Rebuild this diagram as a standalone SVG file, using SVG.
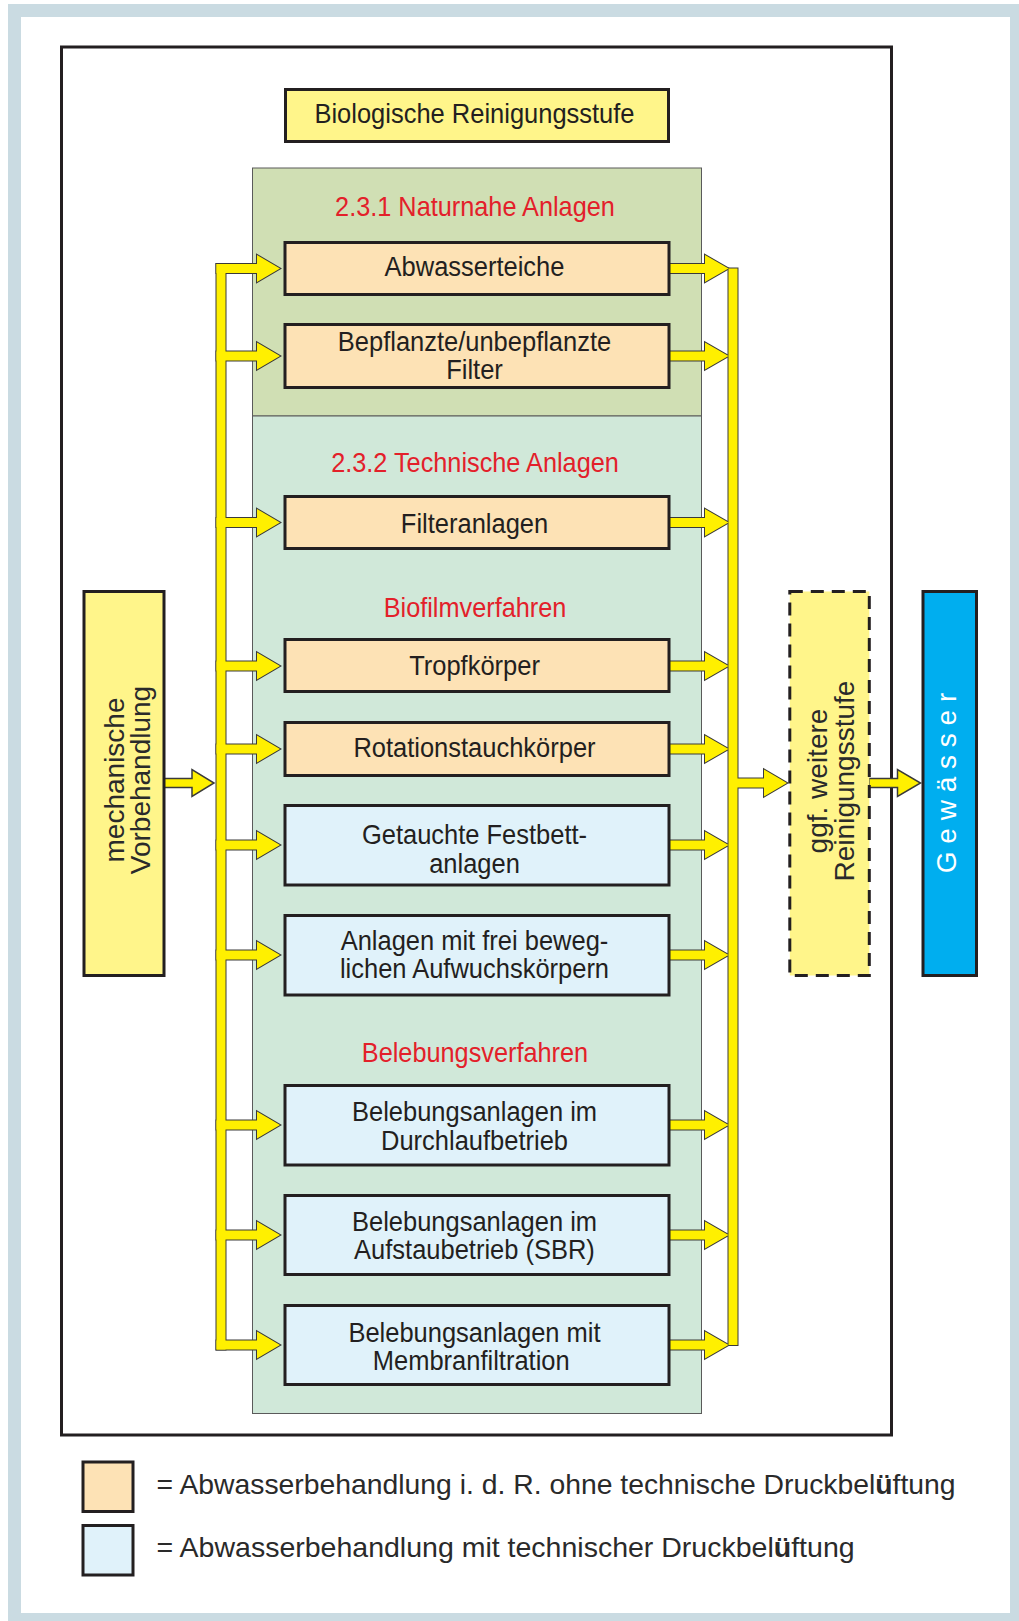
<svg xmlns="http://www.w3.org/2000/svg" xmlns:xlink="http://www.w3.org/1999/xlink" width="1019" height="1621" viewBox="0 0 1019 1621">
<style>
.box{stroke:#231f20;stroke-width:3}
.peach{fill:#fde2b5}
.lblue{fill:#e0f2fa}
.pyellow{fill:#fff58a}
.t{font-family:"Liberation Sans",Arial,sans-serif;font-size:27.5px;fill:#231f20;text-anchor:middle;transform:matrix(0.927,0,0,1,34.64,0)}
.red{font-family:"Liberation Sans",Arial,sans-serif;font-size:27.5px;fill:#e3202a;text-anchor:middle;transform:matrix(0.92,0,0,1,38,0)}
.lt{font-family:"Liberation Sans",Arial,sans-serif;font-size:28px;fill:#2a2a2a;text-anchor:middle}
.leg{font-family:"Liberation Sans",Arial,sans-serif;font-size:28.3px;fill:#2a2a2a}
.sect{stroke:#5a5a5a;stroke-width:1}
</style>
<defs>
<g id="combL">
<rect x="216.5" y="264" width="9" height="1085.5"/>
<path d="M216.5,264 H257 V255 L280,268.5 L257,282 V273 H216.5 Z"/>
<path d="M216.5,351.5 H257 V342.5 L280,356 L257,369.5 V360.5 H216.5 Z"/>
<path d="M216.5,518 H257 V509 L280,522.5 L257,536 V527 H216.5 Z"/>
<path d="M216.5,661.5 H257 V652.5 L280,666 L257,679.5 V670.5 H216.5 Z"/>
<path d="M216.5,744.5 H257 V735.5 L280,749 L257,762.5 V753.5 H216.5 Z"/>
<path d="M216.5,840.5 H257 V831.5 L280,845 L257,858.5 V849.5 H216.5 Z"/>
<path d="M216.5,950.5 H257 V941.5 L280,955 L257,968.5 V959.5 H216.5 Z"/>
<path d="M216.5,1120.5 H257 V1111.5 L280,1125 L257,1138.5 V1129.5 H216.5 Z"/>
<path d="M216.5,1230.5 H257 V1221.5 L280,1235 L257,1248.5 V1239.5 H216.5 Z"/>
<path d="M216.5,1340.5 H257 V1331.5 L280,1345 L257,1358.5 V1349.5 H216.5 Z"/>
</g>
<g id="combR">
<rect x="728.5" y="268.5" width="9" height="1076.5"/>
<path d="M669,264 H705 V255 L728.5,268.5 L705,282 V273 H669 Z"/>
<path d="M669,351.5 H705 V342.5 L728.5,356 L705,369.5 V360.5 H669 Z"/>
<path d="M669,518 H705 V509 L728.5,522.5 L705,536 V527 H669 Z"/>
<path d="M669,661.5 H705 V652.5 L728.5,666 L705,679.5 V670.5 H669 Z"/>
<path d="M669,744.5 H705 V735.5 L728.5,749 L705,762.5 V753.5 H669 Z"/>
<path d="M669,840.5 H705 V831.5 L728.5,845 L705,858.5 V849.5 H669 Z"/>
<path d="M669,950.5 H705 V941.5 L728.5,955 L705,968.5 V959.5 H669 Z"/>
<path d="M669,1120.5 H705 V1111.5 L728.5,1125 L705,1138.5 V1129.5 H669 Z"/>
<path d="M669,1230.5 H705 V1221.5 L728.5,1235 L705,1248.5 V1239.5 H669 Z"/>
<path d="M669,1340.5 H705 V1331.5 L728.5,1345 L705,1358.5 V1349.5 H669 Z"/>
<path d="M737,778.5 H764 V769.5 L787,783 L764,796.5 V787.5 H737 Z"/>
</g>
<path id="arrMech" d="M164,778.5 H192 V769.5 L214,783 L192,796.5 V787.5 H164 Z"/>
<path id="arrGew" d="M869,778.5 H897.5 V769.5 L920.5,783 L897.5,796.5 V787.5 H869 Z"/>
</defs>

<rect x="0" y="0" width="1019" height="1621" fill="#ffffff"/>
<rect x="8" y="4" width="1011" height="1617" fill="#cadbe2"/>
<rect x="21" y="17" width="989" height="1596" fill="#ffffff"/>
<rect x="61.5" y="47" width="830" height="1388" fill="#ffffff" stroke="#231f20" stroke-width="3"/>

<g id="sections">
<rect class="sect" x="252.5" y="168" width="449" height="248" fill="#d0dfb4"/>
<rect class="sect" x="252.5" y="416" width="449" height="997.5" fill="#d0e8d9"/>
<text class="red" x="475" y="216.5">2.3.1 Naturnahe Anlagen</text>
<text class="red" x="475" y="472.3">2.3.2 Technische Anlagen</text>
<text class="red" x="475" y="616.7">Biofilmverfahren</text>
<text class="red" x="475" y="1062.5">Belebungsverfahren</text>
</g>

<g id="connectors">
<use xlink:href="#combL" fill="#fff000" stroke="#3a3a3a" stroke-width="2"/>
<use xlink:href="#combL" fill="#fff000"/>
<use xlink:href="#combR" fill="#fff000" stroke="#3a3a3a" stroke-width="2"/>
<use xlink:href="#combR" fill="#fff000"/>
<use xlink:href="#arrMech" fill="#fff000" stroke="#3a3a3a" stroke-width="1.5"/>
<use xlink:href="#arrGew" fill="#fff000" stroke="#3a3a3a" stroke-width="1.5"/>
</g>

<g id="n-title">
<rect class="box pyellow" x="285.5" y="89.5" width="383" height="52"/>
<text class="t" x="474.5" y="123">Biologische Reinigungsstufe</text>
</g>

<g id="n-mech">
<rect class="box pyellow" x="84" y="591.5" width="80" height="384"/>
<text class="lt" transform="translate(123.5,780) rotate(-90)">mechanische</text>
<text class="lt" transform="translate(150,780) rotate(-90)">Vorbehandlung</text>
</g>

<g id="n-abwasserteiche">
<rect class="box peach" x="285" y="242.5" width="384" height="52"/>
<text class="t" x="474.5" y="276">Abwasserteiche</text>
</g>
<g id="n-bepflanzte">
<rect class="box peach" x="285" y="324.5" width="384" height="63"/>
<text class="t" x="474.5" y="351">Bepflanzte/unbepflanzte</text>
<text class="t" x="474.5" y="379">Filter</text>
</g>
<g id="n-filteranlagen">
<rect class="box peach" x="285" y="496.5" width="384" height="52"/>
<text class="t" x="474.5" y="533.5">Filteranlagen</text>
</g>
<g id="n-tropfkoerper">
<rect class="box peach" x="285" y="639.5" width="384" height="52"/>
<text class="t" x="474.5" y="675">Tropfkörper</text>
</g>
<g id="n-rotation">
<rect class="box peach" x="285" y="722.5" width="384" height="53"/>
<text class="t" x="474.5" y="757">Rotationstauchkörper</text>
</g>
<g id="n-getauchte">
<rect class="box lblue" x="285" y="805.5" width="384" height="79.5"/>
<text class="t" x="474.5" y="844">Getauchte Festbett-</text>
<text class="t" x="474.5" y="873">anlagen</text>
</g>
<g id="n-anlagen">
<rect class="box lblue" x="285" y="915.5" width="384" height="79.5"/>
<text class="t" x="474.5" y="950.5">Anlagen mit frei beweg-</text>
<text class="t" x="474.5" y="978.5">lichen Aufwuchskörpern</text>
</g>
<g id="n-durchlauf">
<rect class="box lblue" x="285" y="1085.5" width="384" height="79.5"/>
<text class="t" x="474.5" y="1121">Belebungsanlagen im</text>
<text class="t" x="474.5" y="1150">Durchlaufbetrieb</text>
</g>
<g id="n-aufstau">
<rect class="box lblue" x="285" y="1195.5" width="384" height="79"/>
<text class="t" x="474.5" y="1230.7">Belebungsanlagen im</text>
<text class="t" x="474.5" y="1259.3">Aufstaubetrieb (SBR)</text>
</g>
<g id="n-membran">
<rect class="box lblue" x="285" y="1305.5" width="384" height="79"/>
<text class="t" x="474.5" y="1341.7">Belebungsanlagen mit</text>
<text class="t" x="471" y="1370">Membranfiltration</text>
</g>

<g id="n-weitere">
<rect x="789.8" y="591.5" width="79.5" height="384" class="pyellow" stroke="#231f20" stroke-width="3" stroke-dasharray="13 8"/>
<text class="lt" transform="translate(827,781) rotate(-90)">ggf. weitere</text>
<text class="lt" transform="translate(854,781) rotate(-90)">Reinigungsstufe</text>
</g>

<g id="n-gewaesser">
<rect class="box" x="923" y="591.5" width="53.5" height="384" fill="#00aeef"/>
<text class="lt" transform="translate(956,783) rotate(-90)" style="fill:#ffffff">G e w ä s s e r</text>
</g>

<g id="legend">
<rect class="box peach" x="83" y="1462" width="50" height="49.5"/>
<rect class="box lblue" x="83" y="1525.5" width="50" height="49.5"/>
<text class="leg" x="156.6" y="1494" textLength="799" lengthAdjust="spacingAndGlyphs">= Abwasserbehandlung i. d. R. ohne technische Druckbel<tspan font-weight="bold">ü</tspan>ftung</text>
<text class="leg" x="156.6" y="1556.7" textLength="698" lengthAdjust="spacingAndGlyphs">= Abwasserbehandlung mit technischer Druckbel<tspan font-weight="bold">ü</tspan>ftung</text>
</g>
</svg>
